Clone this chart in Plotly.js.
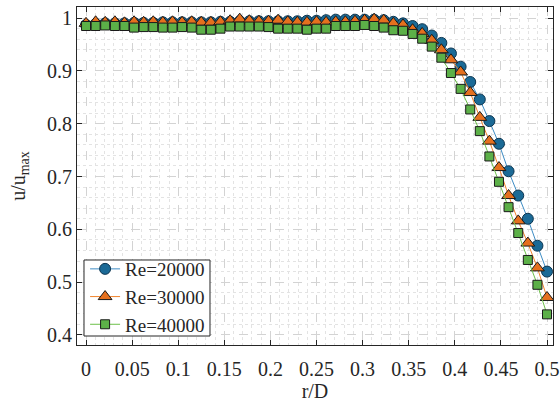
<!DOCTYPE html>
<html><head><meta charset="utf-8">
<script src="https://cdn.plot.ly/plotly-3.0.1.min.js"></script>
<style>
body{margin:0;background:#fff}
#chart{width:560px;height:405px}
</style>
</head><body><div id="chart"></div>
<script>
// r/D positions (49 stations, 0 to 0.5)
const rD = [0, 0.0104, 0.0208, 0.0313, 0.0417, 0.0521, 0.0625, 0.0729, 0.0833, 0.0938,
  0.1042, 0.1146, 0.125, 0.1354, 0.1458, 0.1563, 0.1667, 0.1771, 0.1875, 0.1979,
  0.2083, 0.2188, 0.2292, 0.2396, 0.25, 0.2604, 0.2708, 0.2813, 0.2917, 0.3021,
  0.3125, 0.3229, 0.3333, 0.3438, 0.3542, 0.3646, 0.375, 0.3854, 0.3958, 0.4063,
  0.4167, 0.4271, 0.4375, 0.4479, 0.4583, 0.4688, 0.4792, 0.4896, 0.5];
const re20000 = [0.987, 0.989, 0.990, 0.990, 0.990, 0.991, 0.991, 0.991, 0.992, 0.992,
  0.992, 0.992, 0.992, 0.992, 0.993, 0.993, 0.994, 0.994, 0.994, 0.994,
  0.994, 0.994, 0.994, 0.995, 0.995, 0.996, 0.997, 0.997, 0.997, 0.997,
  0.997, 0.996, 0.993, 0.990, 0.985, 0.979, 0.967, 0.953, 0.933, 0.908,
  0.879, 0.846, 0.805, 0.762, 0.710, 0.664, 0.620, 0.569, 0.520];
const re30000 = [0.990, 0.993, 0.992, 0.993, 0.991, 0.993, 0.992, 0.993, 0.992, 0.993,
  0.992, 0.993, 0.992, 0.992, 0.993, 0.995, 0.998, 0.995, 0.994, 0.994,
  0.996, 0.993, 0.992, 0.992, 0.993, 0.992, 0.993, 0.993, 0.994, 0.996,
  0.998, 0.996, 0.990, 0.987, 0.978, 0.971, 0.958, 0.940, 0.921, 0.898,
  0.859, 0.812, 0.767, 0.717, 0.664, 0.616, 0.574, 0.527, 0.471];
const re40000 = [0.985, 0.985, 0.986, 0.985, 0.985, 0.982, 0.983, 0.983, 0.982, 0.982,
  0.983, 0.982, 0.978, 0.978, 0.980, 0.984, 0.984, 0.984, 0.984, 0.983,
  0.980, 0.980, 0.980, 0.978, 0.980, 0.980, 0.985, 0.985, 0.985, 0.987,
  0.985, 0.982, 0.977, 0.976, 0.970, 0.961, 0.946, 0.925, 0.896, 0.866,
  0.827, 0.786, 0.738, 0.690, 0.642, 0.593, 0.542, 0.495, 0.439];
const seriesNames = ['Re=20000', 'Re=30000', 'Re=40000'];

const serif = '"Liberation Serif", "Times New Roman", serif';
const ink = '#262626';

const traces = [
  {x: rD, y: re20000, name: seriesNames[0], mode: 'lines+markers', type: 'scatter',
   line: {color: '#3d8cc4', width: 1},
   marker: {symbol: 'circle', size: 11, color: '#1b6a96', line: {color: '#0c3550', width: 1}}},
  {x: rD, y: re30000, name: seriesNames[1], mode: 'lines+markers', type: 'scatter',
   line: {color: '#f0842c', width: 1},
   marker: {symbol: 'triangle-up', size: 12, color: '#e5701e', line: {color: '#1a1a1a', width: 1}}},
  {x: rD, y: re40000, name: seriesNames[2], mode: 'lines+markers', type: 'scatter',
   line: {color: '#6cc04a', width: 1},
   marker: {symbol: 'square', size: 9, color: '#5cb048', line: {color: '#1a1a1a', width: 1}}}
];

const axisCommon = {
  showline: true, linecolor: ink, linewidth: 1, mirror: 'ticks',
  ticks: 'inside', ticklen: 5, tickwidth: 1, tickcolor: ink,
  showgrid: true, gridcolor: '#d3d3d3', griddash: 'dash', gridwidth: 1,
  zeroline: false,
  tickfont: {family: serif, size: 20, color: ink}
};

const layout = {
  width: 560, height: 405,
  margin: {l: 77, r: 7, t: 7, b: 60},
  paper_bgcolor: '#ffffff', plot_bgcolor: '#ffffff',
  font: {family: serif, color: ink},
  showlegend: true,
  xaxis: Object.assign({}, axisCommon, {
    range: [-0.0098, 0.5065], tick0: 0, dtick: 0.05,
    ticklabelstandoff: 6,
    minor: {dtick: 0.01, showgrid: true, gridcolor: '#e3e3e3', griddash: 'dot', gridwidth: 1, ticks: ''},
    title: {text: 'r/D', font: {family: serif, size: 20, color: ink}, standoff: 4}
  }),
  yaxis: Object.assign({}, axisCommon, {
    range: [0.381, 1.021], tick0: 0.4, dtick: 0.1,
    minor: {dtick: 0.02, showgrid: true, gridcolor: '#e3e3e3', griddash: 'dot', gridwidth: 1, ticks: ''},
    title: {text: 'u/u<sub>max</sub>', font: {family: serif, size: 20, color: ink}, standoff: 16}
  }),
  shapes: [{
    type: 'rect', xref: 'paper', yref: 'paper', layer: 'above',
    x0: 0.0147, x1: 0.2794, y0: 0.0266, y1: 0.2515,
    fillcolor: '#ffffff', line: {color: ink, width: 1}
  }],
  legend: {
    x: 0.017, y: 0.281, xanchor: 'left', yanchor: 'top',
    bgcolor: 'rgba(0,0,0,0)', borderwidth: 0,
    font: {family: serif, size: 19, color: ink},
    tracegroupgap: 0, itemwidth: 30
  }
};

Plotly.newPlot('chart', traces, layout, {displayModeBar: false, staticPlot: true});
</script>
</body></html>
